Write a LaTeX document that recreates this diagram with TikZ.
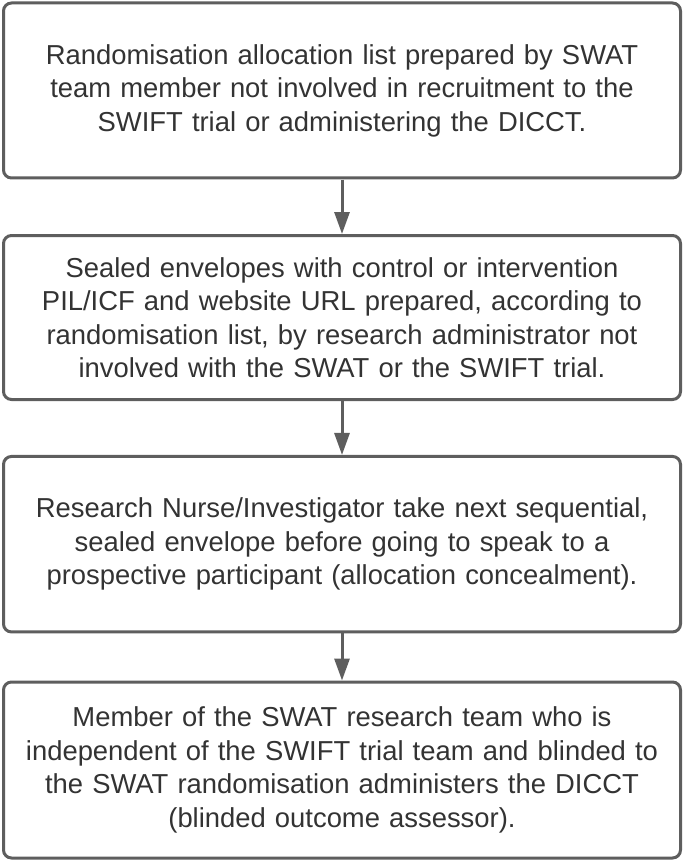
\documentclass[tikz,border=0pt]{standalone}
\usepackage{fontspec}
\setmainfont{Liberation Sans}
\usetikzlibrary{arrows.meta}
\definecolor{edge}{HTML}{5E5E5E}
\definecolor{txt}{HTML}{333333}
\begin{document}
\begin{tikzpicture}[x=1pt,y=1pt,
  stepbox/.style={draw=edge, line width=3pt, rounded corners=8pt, fill=white,
    minimum width=677pt, text width=670pt, align=center, inner sep=0pt,
    text=txt, font=\fontsize{27.4}{33.5}\selectfont},
  conn/.style={draw=edge, line width=3pt, -{Triangle[length=22pt,width=15pt]}}]
\useasboundingbox (0,0) rectangle (685,-861);
\node[stepbox, minimum height=175pt] (a) at (342,-90.5)
  {Randomisation allocation list prepared by SWAT\\team member not involved in recruitment to the\\SWIFT trial or administering the DICCT.};
\node[stepbox, minimum height=164pt] (b) at (342,-317.5)
  {Sealed envelopes with control or intervention\\PIL/ICF and website URL prepared, according to\\randomisation list, by research administrator not\\involved with the SWAT or the SWIFT trial.};
\node[stepbox, minimum height=175.5pt] (c) at (342,-544.2)
  {Research Nurse/Investigator take next sequential,\\sealed envelope before going to speak to a\\prospective participant (allocation concealment).};
\node[stepbox, minimum height=176pt] (d) at (342,-770)
  {Member of the SWAT research team who is\\independent of the SWIFT trial team and blinded to\\the SWAT randomisation administers the DICCT\\(blinded outcome assessor).};
\draw[conn] (a) -- (b);
\draw[conn] (b) -- (c);
\draw[conn] (c) -- (d);
\end{tikzpicture}
\end{document}
